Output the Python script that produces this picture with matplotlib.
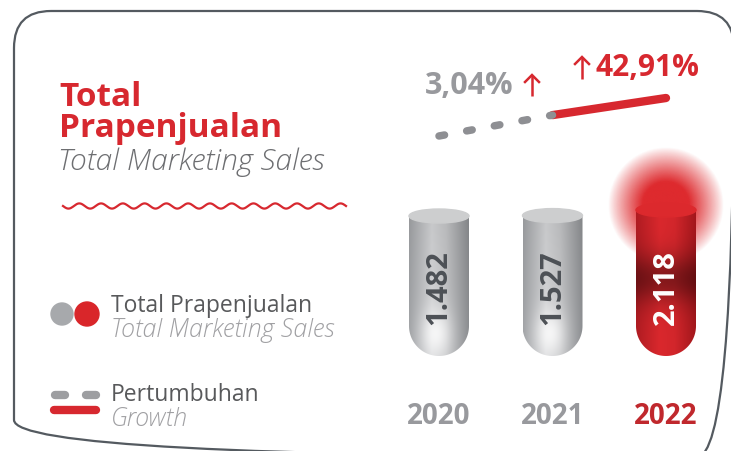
import numpy as np
import matplotlib
matplotlib.use('Agg')
import matplotlib.pyplot as plt
from matplotlib.patches import Ellipse, Circle, FancyBboxPatch, PathPatch
from matplotlib.path import Path
from matplotlib.colors import to_rgb

# data
years = ['2020', '2021', '2022']
sales = [1482, 1527, 2118]
sales_labels = ['1.482', '1.527', '2.118']
growth_labels = ['3,04%', '42,91%']
trend_level = [1.0, 1.55, 2.0]   # decorative growth line, arbitrary units

RED = '#d7282f'
GRAY_TXT = '#98999d'
DARK = '#58595b'
FONT = 'Open Sans'

W, H = 731, 452
fig = plt.figure(figsize=(W / 100, H / 100), dpi=100)
ax = fig.add_axes([0, 0, 1, 1])
ax.set_xlim(0, W)
ax.set_ylim(H, 0)
ax.axis('off')

# bar axes (categories 0..2, value axis with an offset baseline)
bx0, bx1 = 439 - 56.75, 666 + 56.75
base_px, top_px = 357, 150
bax = fig.add_axes([bx0 / W, (H - base_px) / H, (bx1 - bx0) / W, (base_px - top_px) / H])
bax.set_xlim(-0.5, 2.5)
bax.set_ylim(-13358, 8584)
bax.axis('off')

# growth line axes
gax = fig.add_axes([bx0 / W, (H - 144.6) / H, (bx1 - bx0) / W, (144.6 - 91.4) / H])
gax.set_xlim(-0.5, 2.5)
gax.set_ylim(0.8, 2.2)
gax.axis('off')

# frame
frame = FancyBboxPatch((14, 12), 720, 446, boxstyle='round,pad=0,rounding_size=37',
                       fc='none', ec='#545a60', lw=1.6)
ax.add_patch(frame)

# title block
ax.text(59, 97, 'Total', color=RED, fontsize=24, fontweight='bold', family=FONT, va='center')
ax.text(59, 129, 'Prapenjualan', color=RED, fontsize=24, fontweight='bold', family=FONT, va='center')
ax.text(58, 162, 'Total Marketing Sales', color='#6d6e71', fontsize=21.5, style='italic',
        family=FONT, fontweight='light', va='center')
xw = np.linspace(63, 346, 500)
ax.plot(xw, 207 + 2.6 * np.sin((xw - 63) / 283 * 13 * 2 * np.pi), color=RED, lw=1.6)

# legend
ax.add_patch(Circle((62, 315), 11, color='#a7a9ac'))
ax.add_patch(Circle((87, 315), 12, color='#d9262a'))
ax.text(111, 306, 'Total Prapenjualan', color=DARK, fontsize=16.5, family=FONT, va='center')
ax.text(111, 331, 'Total Marketing Sales', color='#a0a0a3', fontsize=18, style='italic',
        family=FONT, fontweight='light', va='center')
ax.plot([55, 65], [396, 396], color='#9d9ea1', lw=6, solid_capstyle='round')
ax.plot([86, 96], [396, 396], color='#9d9ea1', lw=6, solid_capstyle='round')
ax.plot([54, 96], [411, 411], color=RED, lw=6, solid_capstyle='round')
ax.text(111, 395, 'Pertumbuhan', color=DARK, fontsize=16.5, family=FONT, va='center')
ax.text(111, 420, 'Growth', color='#a0a0a3', fontsize=18, style='italic',
        family=FONT, fontweight='light', va='center')

# growth line
xs = np.arange(len(years))
gax.plot(xs[1:], trend_level[1:], color=RED, lw=6, solid_capstyle='round')
gax.plot(xs[:2], trend_level[:2], color='#8e8f93', lw=5.4, dash_capstyle='round',
         dashes=(0.75, 3.0))
ax.text(469, 86, growth_labels[0], color=GRAY_TXT, fontsize=22, fontweight='bold',
        family=FONT, ha='center', va='center')
ax.text(647, 68, growth_labels[1], color=RED, fontsize=21.5, fontweight='bold',
        family=FONT, ha='center', va='center')


def arrow(x, y0, y1):
    ax.plot([x, x], [y0, y1], color=RED, lw=1.8, solid_capstyle='butt')
    ax.plot([x - 7, x, x + 7], [y1 + 7, y1, y1 + 7], color=RED, lw=1.8, solid_joinstyle='miter')


arrow(532, 97, 76)
arrow(582, 80, 58)


def lerp_profile(stops, n):
    t = np.linspace(0, 1, n)
    pos = [s[0] for s in stops]
    cols = np.array([to_rgb(s[1]) for s in stops])
    return np.stack([np.interp(t, pos, cols[:, k]) for k in range(3)], axis=1)


def to_px(x, y):
    X, Y = bax.transData.transform((x, y))
    return X, H - Y


fig.canvas.draw()
half = 30
ny, nx = 160, 60
for i, (v, lab) in enumerate(zip(sales, sales_labels)):
    cx, ty = to_px(i, v)
    _, by = to_px(i, bax.get_ylim()[0])
    L, R = cx - half, cx + half
    t = np.linspace(np.pi, 0, 60)
    pts = [(L, ty)] + list(zip(cx + half * np.cos(t), by - half + half * np.sin(t))) + [(R, ty), (L, ty)]
    clip = PathPatch(Path(pts), fc='none', ec='none')
    ax.add_patch(clip)
    yy = np.linspace(0, 1, ny)[:, None]
    xx = np.linspace(0, 1, nx)[None, :]
    if i < 2:
        prof = lerp_profile([(0, '#a3a5a8'), (0.38, '#d6d7d9'), (0.62, '#c6c7c9'), (1, '#8e9093')], nx)
        img = np.repeat(prof[None, :, :], ny, axis=0)
        img = img * (0.93 + 0.07 * yy[..., None])
        hl = 0.8 * np.exp(-((xx - 0.45) / 0.24) ** 2 - ((yy - 0.84) / 0.17) ** 2)
        img = img + (1 - img) * hl[..., None]
        top_col, txt_col = '#cdcecf', '#4d5156'
    else:
        # glow
        gx = np.linspace(-1, 1, 200)
        gr = np.sqrt(gx[None, :] ** 2 + gx[:, None] ** 2)
        ga = np.clip(1.6 * np.clip(1 - gr, 0, 1) ** 0.9, 0, 1)
        glow = np.zeros((200, 200, 4))
        glow[..., :3] = to_rgb('#de2a2e')
        glow[..., 3] = ga
        ax.imshow(glow, extent=(cx - 58, cx + 58, ty + 53, ty - 63), zorder=1,
                  interpolation='bilinear', aspect='auto')
        prof = lerp_profile([(0, '#b01c22'), (0.4, '#da282d'), (0.65, '#d2262b'), (1, '#a3171c')], nx)
        img = np.repeat(prof[None, :, :], ny, axis=0)
        dark = 1 - 0.38 * np.exp(-((yy - 0.47) / 0.17) ** 2)
        img = img * dark[..., None]
        top_col, txt_col = '#dc292d', 'white'
    im = ax.imshow(np.clip(img, 0, 1), extent=(L, R, by, ty), origin='upper', zorder=2,
                   interpolation='bilinear', aspect='auto')
    im.set_clip_path(clip)
    ax.add_patch(Ellipse((cx, ty), 2 * half, 14, color=top_col, zorder=3))
    ax.text(cx, 288, lab, rotation=90, ha='center', va='center', color=txt_col,
            fontsize=21, fontweight='bold', family=FONT, zorder=4)
    ax.text(cx, 417, years[i], ha='center', va='center', fontsize=20, fontweight='bold',
            family=FONT, color='#c0282d' if i == 2 else GRAY_TXT)

ax.set_xlim(0, W)
ax.set_ylim(H, 0)
fig.savefig('out.png', dpi=100)
